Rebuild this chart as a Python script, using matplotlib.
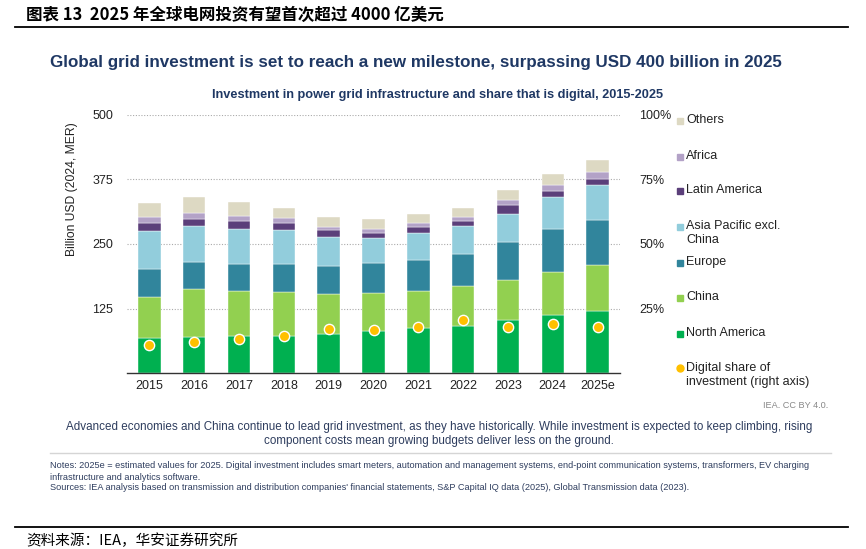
import matplotlib
matplotlib.use("Agg")
import matplotlib.pyplot as plt
from matplotlib.patches import Rectangle
from matplotlib.lines import Line2D
import numpy as np

plt.rcParams['font.family'] = ['Liberation Sans', 'DejaVu Sans']

years = ["2015", "2016", "2017", "2018", "2019", "2020", "2021", "2022", "2023", "2024", "2025e"]
north_america = [68, 70, 72, 72, 76, 81, 88, 92, 103, 113, 121]
china = [80, 92, 87, 85, 77, 75, 71, 77, 77, 83, 88]
europe = [54, 53, 53, 54, 55, 57, 60, 61, 74, 83, 88]
asia_pacific = [73, 69, 68, 66, 56, 49, 53, 55, 55, 63, 67]
latin_america = [16, 15, 15, 13.5, 13, 10, 11, 9, 17, 11, 12]
africa = [12, 12, 10, 10, 6.5, 6.5, 7, 9, 9, 12, 14]
others = [27, 30, 26.5, 20, 18.5, 20.5, 18.5, 17.5, 19.5, 21, 22]
digital_share = [10.8, 12.0, 13.3, 14.2, 17.0, 16.6, 17.9, 20.7, 18.0, 18.8, 18.0]

series = [
    ("North America", north_america, "#00b050"),
    ("China", china, "#92d050"),
    ("Europe", europe, "#31859c"),
    ("Asia Pacific excl.\nChina", asia_pacific, "#92cddc"),
    ("Latin America", latin_america, "#5b3f7a"),
    ("Africa", africa, "#b3a2c7"),
    ("Others", others, "#ddd9c3"),
]

W, H = 866, 549
fig = plt.figure(figsize=(W / 100, H / 100), dpi=100)

def fx(px):
    return px / W

def fy(py):
    return 1 - py / H

def hline(x0, x1, y, color, lw):
    fig.lines.append(Line2D([fx(x0), fx(x1)], [fy(y), fy(y)], color=color, linewidth=lw,
                            transform=fig.transFigure, figure=fig))

ax = fig.add_axes([fx(127), fy(373), fx(620) - fx(127), fy(115) - fy(373)])
x = np.arange(len(years))
bottom = np.zeros(len(years))
for name, vals, col in series:
    ax.bar(x, vals, width=0.5, bottom=bottom, color=col, edgecolor="white", linewidth=0.3, zorder=2)
    bottom += np.array(vals)

ax.set_xlim(-0.5, 10.5)
ax.set_ylim(0, 500)
ax.set_yticks([125, 250, 375, 500])
ax.set_yticklabels(["125", "250", "375", "500"])
ax.set_xticks(x)
ax.set_xticklabels(years)
ax.tick_params(axis="both", length=0, labelsize=9, colors="#222222")
ax.tick_params(axis="y", pad=10)
ax.tick_params(axis="x", pad=5)
ax.grid(axis="y", linestyle=(0, (1, 1.5)), color="#aaaaaa", linewidth=0.8, zorder=0)
for s in ["top", "right", "left"]:
    ax.spines[s].set_visible(False)
ax.spines["bottom"].set_color("#333333")
ax.spines["bottom"].set_linewidth(1.0)

ax2 = ax.twinx()
ax2.set_ylim(0, 1)
ax2.scatter(x, np.array(digital_share) / 100, s=55, color="#ffc000", edgecolor="white", linewidth=1.0, zorder=5)
ax2.set_yticks([0.25, 0.5, 0.75, 1.0])
ax2.set_yticklabels(["25%", "50%", "75%", "100%"])
ax2.tick_params(axis="y", length=0, labelsize=9, colors="#222222", pad=14)
for s in ["top", "right", "left", "bottom"]:
    ax2.spines[s].set_visible(False)

fig.text(fx(72), fy(189), "Billion USD (2024, MER)", rotation=90, ha="center", va="center",
         fontsize=8.7, color="#222222")

# legend, top to bottom
legend_items = [
    ("Others", "#ddd9c3", 120),
    ("Africa", "#b3a2c7", 156),
    ("Latin America", "#5b3f7a", 190),
    ("Asia Pacific excl.\nChina", "#92cddc", 226),
    ("Europe", "#31859c", 262),
    ("China", "#92d050", 297),
    ("North America", "#00b050", 333),
]
for label, col, py in legend_items:
    fig.patches.append(Rectangle((fx(677), fy(py + 3.5)), fx(6), 6 / H, color=col,
                                 transform=fig.transFigure, figure=fig))
    fig.text(fx(686), fy(py - 6), label, ha="left", va="top",
             fontsize=9, color="#222222", linespacing=1.25)
fig.lines.append(Line2D([fx(680)], [fy(368)], marker="o", markersize=5, color="#ffc000",
                        transform=fig.transFigure, figure=fig))
fig.text(fx(686), fy(362), "Digital share of\ninvestment (right axis)", ha="left", va="top",
         fontsize=9, color="#222222", linespacing=1.25)

# header
fig.text(fx(26), fy(15), "图表 13  2025 年全球电网投资有望首次超过 4000 亿美元", ha="left", va="center",
         fontsize=11.9, fontweight="bold", family=["Noto Sans CJK SC", "DejaVu Sans"], color="black")
hline(15, 848, 27.3, "black", 1.3)

fig.text(fx(416), fy(62), "Global grid investment is set to reach a new milestone, surpassing USD 400 billion in 2025",
         ha="center", va="center", fontsize=12.25, fontweight="bold", color="#1f3864")
fig.text(fx(438), fy(95), "Investment in power grid infrastructure and share that is digital, 2015-2025",
         ha="center", va="center", fontsize=9.2, fontweight="bold", color="#1f3864")

# footer
fig.text(fx(828), fy(405), "IEA. CC BY 4.0.", ha="right", va="center", fontsize=6.6, color="#888888")
fig.text(fx(439), fy(434), "Advanced economies and China continue to lead grid investment, as they have historically. "
         "While investment is expected to keep climbing, rising\ncomponent costs mean growing budgets deliver less on the ground.",
         ha="center", va="center", fontsize=8.4, color="#2e3d5e", linespacing=1.25)
hline(50, 831, 453, "#d5d5d5", 1.0)
fig.text(fx(50), fy(471.5), "Notes: 2025e = estimated values for 2025. Digital investment includes smart meters, automation and "
         "management systems, end-point communication systems, transformers, EV charging\ninfrastructure and analytics software.",
         ha="left", va="center", fontsize=6.6, color="#2e3d5e", linespacing=1.3)
fig.text(fx(50), fy(488), "Sources: IEA analysis based on transmission and distribution companies' financial statements, "
         "S&P Capital IQ data (2025), Global Transmission data (2023).",
         ha="left", va="center", fontsize=6.6, color="#2e3d5e")

hline(15, 848, 527, "black", 1.3)
fig.text(fx(26), fy(541), "资料来源：IEA，华安证券研究所", ha="left", va="center", fontsize=10.5,
         family=["Noto Sans CJK SC", "DejaVu Sans"], color="black")

fig.savefig("out.png", dpi=100, facecolor="white")
